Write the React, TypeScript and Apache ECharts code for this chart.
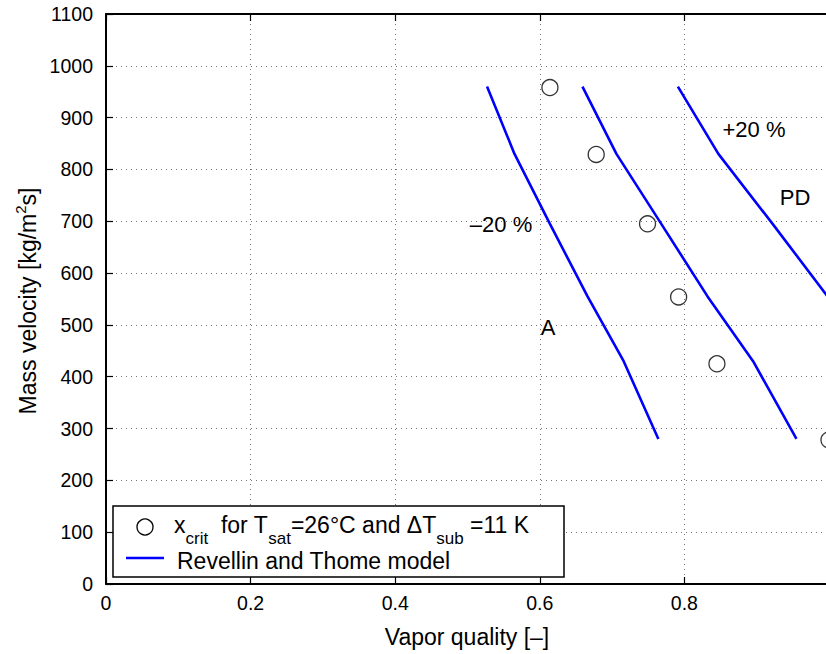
import React, { useEffect, useRef } from "react";
import * as echarts from "echarts";

// Measured critical vapor quality points
const xcritX = [0.614, 0.678, 0.749, 0.792, 0.845, 1.0];
const xcritG = [958, 829, 695, 554, 425, 278];

// Revellin and Thome model, and the ±20 % bands
const modelG = [960, 830, 695, 555, 430, 280];
const modelX = [0.659, 0.706, 0.768, 0.832, 0.895, 0.955];
const minusX = [0.527, 0.565, 0.614, 0.666, 0.716, 0.764];
const plusX = [0.791, 0.847, 0.922, 0.998, 1.074, 1.146];

const xTicks = { min: 0, max: 1, interval: 0.2 };
const yTicks = { min: 0, max: 1100, interval: 100 };

const FONT = "'Liberation Sans', Arial, Helvetica, sans-serif";
const BLUE = "#0000ff";

const pair = (xs: number[], ys: number[]) => xs.map((x, i) => [x, ys[i]]);

export default function App() {
  const ref = useRef<HTMLDivElement>(null);
  useEffect(() => {
    if (!ref.current) return;
    const chart = echarts.init(ref.current, null, { renderer: "svg" });
    const axisCommon = {
      type: "value" as const,
      axisLine: { show: true, onZero: false, lineStyle: { color: "#000", width: 2 } },
      axisTick: { show: true, inside: true, length: 7, lineStyle: { color: "#000", width: 1.2 } },
    };
    const splitLine = {
      show: true,
      lineStyle: { color: "#777", width: 1, type: [1, 4] as any },
    };
    const lineSeries = (name: string, xs: number[]) => ({
      name,
      type: "line",
      data: pair(xs, modelG),
      symbol: "none",
      clip: true,
      lineStyle: { color: BLUE, width: 2.6 },
      itemStyle: { color: BLUE },
      z: 3,
    });
    chart.setOption({
      animation: false,
      backgroundColor: "#fff",
      grid: {
        left: 106,
        top: 14,
        width: 723,
        height: 570,
        containLabel: false,
        outerBoundsMode: "none",
      },
      xAxis: [
        {
          ...axisCommon,
          position: "bottom",
          ...xTicks,
          splitLine,
          axisLabel: {
            color: "#000",
            fontSize: 19.5,
            fontFamily: FONT,
            margin: 9,
            formatter: (v: number) => (v >= 1 ? "" : String(v)),
          },
        },
        {
          ...axisCommon,
          position: "top",
          ...xTicks,
          splitLine: { show: false },
          axisLabel: { show: false },
        },
      ],
      yAxis: [
        {
          ...axisCommon,
          position: "left",
          ...yTicks,
          splitLine,
          axisLabel: {
            color: "#000",
            fontSize: 19.5,
            fontFamily: FONT,
            margin: 13,
            formatter: (v: number) => String(v),
          },
        },
      ],
      series: [
        {
          name: "xcrit",
          type: "scatter",
          data: pair(xcritX, xcritG),
          symbol: "circle",
          symbolSize: 16,
          clip: true,
          itemStyle: { color: "rgba(0,0,0,0)", borderColor: "#000", borderWidth: 1.3 },
          z: 4,
        },
        lineSeries("Revellin and Thome model", modelX),
        lineSeries("-20 %", minusX),
        lineSeries("+20 %", plusX),
      ],
      graphic: [
        // axis titles
        {
          type: "text",
          x: 467,
          y: 637,
          style: {
            text: "Vapor quality [–]",
            fontSize: 23,
            fontFamily: FONT,
            fill: "#000",
            align: "center",
            verticalAlign: "middle",
          },
        },
        {
          type: "text",
          x: 28,
          y: 301,
          rotation: Math.PI / 2,
          style: {
            text: "{m|Mass velocity [kg/m}{s|2}{m|s]}",
            align: "center",
            verticalAlign: "middle",
            fill: "#000",
            rich: {
              m: { fontSize: 23, fontFamily: FONT, lineHeight: 30, fill: "#000" },
              s: { fontSize: 15, fontFamily: FONT, lineHeight: 15, verticalAlign: "top", fill: "#000" },
            },
          },
        },
        // annotations
        ...[
          { t: "+20 %", x: 754, y: 129 },
          { t: "PD", x: 795, y: 197 },
          { t: "–20 %", x: 501, y: 224 },
          { t: "A", x: 548, y: 327 },
        ].map((a) => ({
          type: "text",
          x: a.x,
          y: a.y,
          z: 10,
          style: {
            text: a.t,
            fontSize: 22,
            fontFamily: FONT,
            fill: "#000",
            align: "center",
            verticalAlign: "middle",
          },
        })),
        // legend
        {
          type: "group",
          z: 20,
          children: [
            {
              type: "rect",
              shape: { x: 113, y: 506, width: 451, height: 71 },
              style: { fill: "#fff", stroke: "#000", lineWidth: 1.5 },
              z: 20,
            },
            {
              type: "circle",
              shape: { cx: 145, cy: 527, r: 8 },
              style: { fill: "none", stroke: "#000", lineWidth: 1.3 },
              z: 21,
            },
            {
              type: "line",
              shape: { x1: 126, y1: 558, x2: 164, y2: 558 },
              style: { stroke: BLUE, lineWidth: 2.6 },
              z: 21,
            },
            {
              type: "text",
              x: 174,
              y: 525,
              z: 21,
              style: {
                text: "{m|x}{s|crit}{m|  for T}{s|sat}{m|=26°C and ΔT}{s|sub}{m| =11 K}",
                align: "left",
                verticalAlign: "middle",
                fill: "#000",
                rich: {
                  m: { fontSize: 23, fontFamily: FONT, lineHeight: 23, fill: "#000" },
                  s: { fontSize: 17, fontFamily: FONT, lineHeight: 44, verticalAlign: "bottom", fill: "#000" },
                },
              },
            },
            {
              type: "text",
              x: 177,
              y: 561,
              z: 21,
              style: {
                text: "Revellin and Thome model",
                fontSize: 23,
                fontFamily: FONT,
                fill: "#000",
                align: "left",
                verticalAlign: "middle",
              },
            },
          ],
        },
      ],
    });
    return () => chart.dispose();
  }, []);
  return (
    <div
      ref={ref}
      style={{ position: "fixed", left: 0, top: 0, width: 826, height: 654, background: "#fff" }}
    />
  );
}
